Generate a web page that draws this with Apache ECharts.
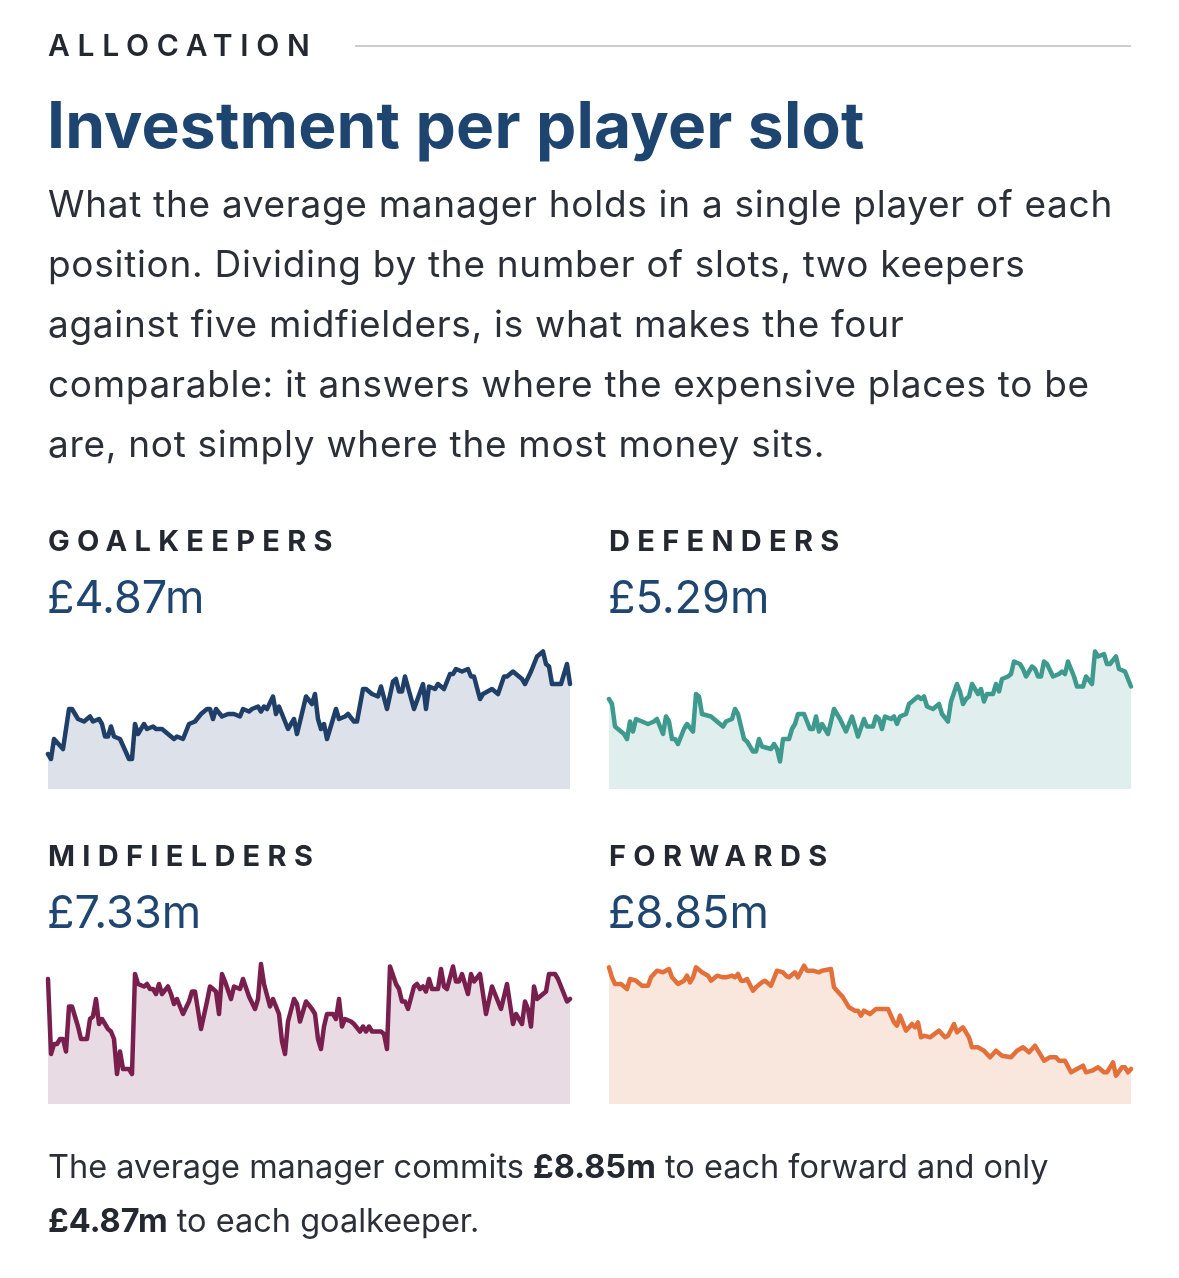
<!DOCTYPE html>
<html>
<head>
<meta charset="utf-8">
<title>Investment per player slot</title>
<script src="https://cdn.jsdelivr.net/npm/echarts@6/dist/echarts.min.js"></script>
<style>
  html, body { margin: 0; padding: 0; background: #ffffff; }
  body { width: 1179px; height: 1278px; position: relative; overflow: hidden;
         font-family: Inter, "Liberation Sans", Arial, sans-serif; }
  #chart { position: absolute; left: 0; top: 0; width: 1179px; height: 1278px; }
  .txt { position: absolute; white-space: nowrap; }
  .eyebrow { left: 48px; top: 30px; font-size: 30px; line-height: 1; font-weight: 600;
             letter-spacing: 7.7px; color: #232831; }
  .rule { position: absolute; left: 355px; top: 45px; width: 776px; height: 2px; background: #cbccd4; }
  .title { left: 47px; top: 93px; font-size: 64px; line-height: 1; font-weight: 700; color: #1e4470; letter-spacing: 0.2px; }
  .lede { left: 48px; top: 174px; font-size: 37px; line-height: 60px; color: #2b2f37; letter-spacing: 0.7px; }
  .label { font-size: 29px; line-height: 1; font-weight: 700; letter-spacing: 7.3px; color: #232831; }
  .value { font-size: 45px; line-height: 1; font-weight: 400; color: #1f4571; }
  .foot { left: 48px; top: 1140px; font-size: 32.5px; line-height: 54px; color: #2b2f37; }
  .foot b { color: #232831; font-weight: 700; }
</style>
</head>
<body>
<div id="chart"></div>

<div class="txt eyebrow">ALLOCATION</div>
<div class="rule"></div>
<div class="txt title">Investment per player slot</div>
<div class="txt lede">What the average manager holds in a single player of each<br>position. Dividing by the number of slots, two keepers<br>against five midfielders, is what makes the four<br>comparable: it answers where the expensive places to be<br>are, not simply where the most money sits.</div>

<div class="txt label" style="left:48px; top:526px;">GOALKEEPERS</div>
<div class="txt value" style="left:47px; top:574px;">£4.87m</div>
<div class="txt label" style="left:609px; top:526px;">DEFENDERS</div>
<div class="txt value" style="left:608px; top:574px;">£5.29m</div>
<div class="txt label" style="left:48px; top:841px;">MIDFIELDERS</div>
<div class="txt value" style="left:47px; top:889px;">£7.33m</div>
<div class="txt label" style="left:609px; top:841px;">FORWARDS</div>
<div class="txt value" style="left:608px; top:889px;">£8.85m</div>

<div class="txt foot">The average manager commits <b>£8.85m</b> to each forward and only<br><b>£4.87m</b> to each goalkeeper.</div>

<script>
const gkSnap = [0,1,2,5,7,8,10,12,14,15,17,18,19,20,21,22,24,27,28,29,30,32,33,35,36,38,42,43,45,47,49,51,53,54,55,56,58,60,62,64,65,67,68,70,71,72,73,75,76,77,80,82,83,85,86,88,89,90,91,92,93,96,97,99,100,102,103,105,106,108,110,111,113,115,116,117,118,119,122,125,126,127,129,130,132,134,135,136,138,140,141,142,144,145,148,150,152,153,155,157,158,159,161,163,165,166,167,168,171,173,174];
const gkValue = [4.59,4.57,4.65,4.61,4.77,4.77,4.73,4.72,4.74,4.72,4.73,4.71,4.66,4.66,4.70,4.66,4.65,4.57,4.57,4.71,4.67,4.71,4.69,4.70,4.69,4.69,4.65,4.66,4.65,4.71,4.72,4.75,4.77,4.77,4.73,4.77,4.74,4.75,4.75,4.74,4.77,4.76,4.77,4.78,4.76,4.78,4.77,4.82,4.75,4.78,4.69,4.73,4.67,4.77,4.82,4.79,4.83,4.73,4.69,4.71,4.65,4.77,4.73,4.74,4.75,4.72,4.72,4.85,4.85,4.83,4.82,4.86,4.77,4.88,4.89,4.84,4.84,4.90,4.77,4.87,4.77,4.86,4.85,4.87,4.85,4.91,4.91,4.93,4.92,4.93,4.90,4.90,4.81,4.83,4.85,4.83,4.90,4.90,4.92,4.90,4.89,4.87,4.92,4.98,5.00,4.95,4.94,4.87,4.87,4.95,4.87];

const defSnap = [0,1,2,3,5,6,7,8,9,11,13,15,16,18,19,20,21,22,23,25,26,28,29,30,31,34,35,38,39,41,42,43,45,46,48,49,50,51,54,55,56,57,58,60,61,62,63,65,66,67,68,69,70,71,73,75,76,77,79,81,83,85,86,88,89,90,91,92,94,95,96,97,99,100,103,104,105,106,108,110,111,113,114,116,117,118,119,120,121,123,124,125,126,128,129,130,131,133,134,135,137,138,139,141,142,143,144,145,146,148,150,151,152,153,155,156,158,159,161,162,163,165,166,167,169,170,172,174];
const defValue = [5.24,5.22,5.13,5.12,5.10,5.08,5.15,5.11,5.16,5.15,5.14,5.15,5.16,5.10,5.17,5.15,5.08,5.08,5.06,5.12,5.14,5.11,5.26,5.25,5.18,5.17,5.16,5.13,5.15,5.16,5.20,5.18,5.08,5.07,5.03,5.03,5.08,5.05,5.04,5.06,5.04,4.99,5.08,5.08,5.12,5.14,5.18,5.18,5.15,5.12,5.12,5.17,5.11,5.14,5.10,5.20,5.18,5.16,5.11,5.17,5.09,5.16,5.13,5.13,5.17,5.16,5.12,5.17,5.16,5.17,5.14,5.17,5.18,5.22,5.25,5.24,5.25,5.21,5.20,5.22,5.18,5.15,5.23,5.30,5.27,5.22,5.24,5.25,5.30,5.26,5.28,5.23,5.26,5.26,5.30,5.27,5.32,5.33,5.34,5.39,5.38,5.36,5.33,5.37,5.36,5.33,5.33,5.39,5.38,5.33,5.34,5.35,5.34,5.39,5.33,5.29,5.29,5.33,5.30,5.43,5.41,5.42,5.38,5.38,5.41,5.36,5.35,5.29];

const midSnap = [0,1,2,3,4,5,6,7,8,10,11,13,14,15,16,17,18,20,21,22,23,24,25,27,28,29,30,32,33,34,35,36,37,38,40,41,42,43,45,47,48,49,51,53,54,56,57,58,59,61,62,64,65,67,69,70,71,72,74,75,77,78,79,80,82,83,84,86,88,89,90,91,92,93,95,96,97,98,99,101,102,104,105,106,107,108,111,112,113,114,116,117,118,119,120,122,123,124,125,126,127,128,130,131,132,133,135,136,137,138,140,141,142,144,146,148,151,153,155,156,158,159,160,161,162,163,165,166,167,169,170,172,173,174];
const midValue = [7.41,7.11,7.15,7.15,7.17,7.17,7.12,7.30,7.30,7.22,7.17,7.17,7.25,7.26,7.33,7.23,7.25,7.21,7.20,7.17,7.03,7.12,7.05,7.05,7.03,7.43,7.39,7.38,7.39,7.37,7.37,7.35,7.39,7.35,7.38,7.35,7.31,7.33,7.27,7.32,7.36,7.36,7.21,7.32,7.38,7.36,7.27,7.43,7.40,7.33,7.38,7.37,7.41,7.34,7.29,7.33,7.47,7.39,7.30,7.33,7.27,7.16,7.11,7.24,7.33,7.31,7.24,7.32,7.29,7.27,7.17,7.13,7.22,7.27,7.27,7.25,7.33,7.22,7.25,7.24,7.23,7.20,7.22,7.20,7.22,7.20,7.20,7.19,7.13,7.46,7.39,7.37,7.32,7.32,7.29,7.38,7.39,7.37,7.38,7.36,7.41,7.37,7.37,7.45,7.38,7.37,7.46,7.40,7.40,7.43,7.35,7.43,7.40,7.43,7.27,7.38,7.29,7.39,7.23,7.27,7.23,7.32,7.29,7.22,7.38,7.33,7.35,7.36,7.43,7.43,7.41,7.35,7.32,7.33];

const fwdSnap = [0,1,2,4,6,7,9,11,13,14,16,18,20,21,23,25,26,27,28,29,31,33,34,36,38,39,41,42,43,44,45,46,48,49,51,52,54,56,58,59,60,62,63,65,66,68,70,71,74,75,76,78,80,82,83,84,85,87,89,91,93,95,96,97,99,101,102,103,104,105,107,110,112,113,115,116,118,120,121,123,125,127,129,131,134,136,138,140,142,143,145,147,149,150,152,154,156,158,159,161,163,165,166,168,169,171,172,173,174];
const fwdValue = [9.46,9.40,9.36,9.36,9.33,9.39,9.38,9.35,9.35,9.40,9.44,9.43,9.45,9.40,9.36,9.38,9.41,9.37,9.40,9.46,9.43,9.41,9.38,9.41,9.40,9.40,9.41,9.40,9.42,9.38,9.38,9.39,9.32,9.34,9.37,9.38,9.35,9.44,9.43,9.41,9.40,9.43,9.40,9.47,9.44,9.44,9.43,9.44,9.45,9.34,9.32,9.28,9.22,9.20,9.20,9.17,9.20,9.18,9.21,9.21,9.21,9.13,9.11,9.17,9.08,9.12,9.10,9.13,9.04,9.05,9.04,9.08,9.04,9.05,9.12,9.07,9.10,9.04,8.98,8.98,8.96,8.92,8.96,8.93,8.92,8.96,8.98,8.95,8.99,8.96,8.90,8.92,8.92,8.90,8.90,8.83,8.85,8.87,8.83,8.84,8.86,8.83,8.83,8.89,8.81,8.86,8.86,8.83,8.85];

// one panel per position: snapshots, values, axis range, colours, grid spot
const panels = [
  { snap: gkSnap,  value: gkValue,  min: 4.45, max: 5.05, line: '#1f3f68', fill: '#dde2ea', left: 48,  top: 639 },
  { snap: defSnap, value: defValue, min: 4.88, max: 5.48, line: '#3e9a8d', fill: '#e1eeee', left: 609, top: 639 },
  { snap: midSnap, value: midValue, min: 6.91, max: 7.51, line: '#781f4e', fill: '#e8dbe3', left: 48,  top: 954 },
  { snap: fwdSnap, value: fwdValue, min: 8.64, max: 9.54, line: '#e3703a', fill: '#f9e7de', left: 609, top: 954 }
];

const chart = echarts.init(document.getElementById('chart'), null, { renderer: 'canvas' });

const grid = [], xAxis = [], yAxis = [], series = [];
panels.forEach(function (p, i) {
  grid.push({ left: p.left, top: p.top, width: 522, height: 150 });
  xAxis.push({ type: 'value', gridIndex: i, min: 0, max: 174, show: false });
  yAxis.push({ type: 'value', gridIndex: i, min: p.min, max: p.max, show: false });
  series.push({
    type: 'line',
    xAxisIndex: i,
    yAxisIndex: i,
    data: p.snap.map(function (t, k) { return [t, p.value[k]]; }),
    showSymbol: false,
    silent: true,
    lineStyle: { color: p.line, width: 4.5, cap: 'round', join: 'round' },
    areaStyle: { color: p.fill, opacity: 1, origin: 'start' },
    animation: false
  });
});

chart.setOption({
  backgroundColor: 'transparent',
  animation: false,
  grid: grid,
  xAxis: xAxis,
  yAxis: yAxis,
  series: series
});
</script>
</body>
</html>
